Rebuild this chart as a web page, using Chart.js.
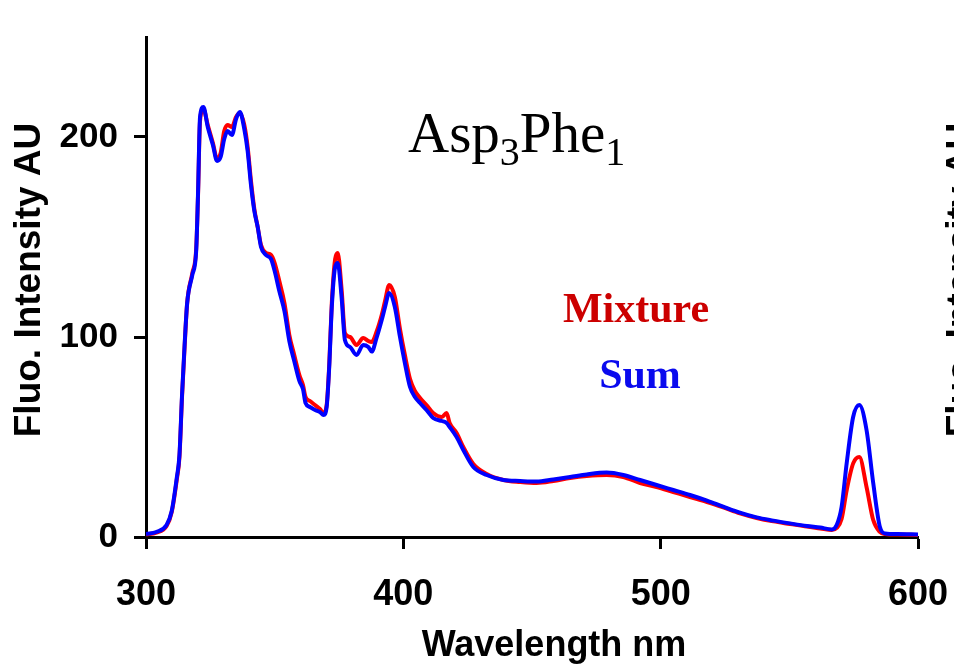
<!DOCTYPE html>
<html>
<head>
<meta charset="utf-8">
<title>Asp3Phe1 fluorescence</title>
<script src="https://cdn.jsdelivr.net/npm/chart.js@4.4.1/dist/chart.umd.min.js"></script>
<style>
    html, body { margin: 0; padding: 0; background: #ffffff; }
    #wrap { position: relative; width: 954px; height: 670px; }
</style>
</head>
<body>
<div id="wrap"><canvas id="spectrum-chart"></canvas></div>
<script>
// Emission spectra
const wavelengths = [
    300, 304, 308, 310, 312, 313, 314, 315, 316, 318, 319.5, 320.2, 321, 322.3, 324, 326, 327.6, 329,
    330.4, 331.7, 333.4, 335, 336.5, 338.2, 339.5, 340.8, 342.1, 343.4, 344.7, 346.6, 348.6, 350,
    351.8, 353.8, 355.7, 357.6, 359.6, 361, 362, 363.7, 365.7, 367.6, 369, 370.2, 371.2, 372.2,
    373.5, 374.5, 376, 377.3, 379.3, 381.8, 384.4, 386.4, 387.7, 389.7, 391.6, 392.9, 394.5, 396.7,
    398.7, 400.6, 402.6, 404.5, 406.5, 409, 411.6, 415, 416.8, 418, 420.7, 423.3, 427.2, 432.4,
    438.9, 445.4, 451.8, 458.3, 464.8, 471.3, 479, 485.5, 492, 498.4, 504.9, 511.4, 518, 524.3,
    530.8, 537.3, 543.8, 550.3, 556.8, 562, 566.5, 568.4, 570.3, 572.3, 574.8, 577.2, 580, 582.6,
    585.2, 587.2, 592, 600
];
const sumValues = [
    1.5, 2.5, 6, 13, 30, 41, 71, 96, 117, 131, 143, 171, 210, 215, 205, 196, 188, 190,
    199, 203, 201, 209, 212.5, 204, 193, 176, 163, 155, 145, 141, 139, 133,
    123, 113, 98, 88, 78, 74, 67, 65, 63.5, 62.5, 61, 65, 85, 115,
    135, 137, 120, 98.5, 95, 91, 96, 95, 92.7, 100, 108.5, 115, 122, 115,
    100, 87, 75, 70, 67, 63.5, 59.5, 58, 57, 55, 50, 43.5, 35, 31,
    28.5, 28, 27.7, 28.8, 30, 31.3, 32.2, 31, 28.5, 26, 23.5, 21, 18.2, 15.2,
    12.2, 9.8, 8.2, 6.8, 5.5, 4.7, 3.8, 6, 15, 37, 60, 66, 53.5, 27,
    5, 1.8, 1.5, 1.3
];
const mixtureValues = [
    1.2, 2.2, 5.5, 12.5, 29, 40, 70, 95, 117, 132, 144, 170, 208, 214, 206, 197, 189, 192,
    203, 206, 205, 210, 212, 206, 195, 178, 164, 155, 146, 142, 141, 137,
    128, 117, 101, 91, 81, 76, 70, 68, 66, 64, 62, 66, 86, 117,
    139, 142, 124, 102, 100, 96, 99.5, 98, 97.5, 103, 111, 118, 126, 120,
    104, 91, 79, 73, 69.5, 66, 62, 60, 62, 57, 52, 45, 36.5, 31.5,
    28.5, 27.5, 27, 28, 29.5, 30.5, 31, 30, 27, 25, 22.5, 20, 17.5, 14.8,
    11.8, 9.5, 7.8, 6.5, 5.2, 4.3, 3.5, 4.5, 9, 23.5, 36.8, 40, 25, 8.5,
    2.5, 1.5, 1.2, 1
];
const xTicks = [300, 400, 500, 600];
const yTicks = [0, 100, 200];

const SANS = "'Liberation Sans', Arial, sans-serif";
const SERIF = "'Liberation Serif', 'Times New Roman', serif";

// Turn the arrays into {x, y} points
function toPoints(values) {
    return wavelengths.map((w, i) => ({ x: w, y: values[i] }));
}

// Texts around the plot (axis titles, panel label, key)
const labelsPlugin = {
    id: 'figureLabels',
    afterDraw(chart) {
        const ctx = chart.ctx;
        ctx.save();
        ctx.fillStyle = '#000000';

        // x axis title
        ctx.font = 'bold 36px ' + SANS;
        ctx.textAlign = 'center';
        ctx.textBaseline = 'middle';
        ctx.fillText('Wavelength nm', 554, 646);

        // y axis title, and the one of the next panel cut by the right edge
        ctx.font = 'bold 37px ' + SANS;
        [30, 962].forEach(cx => {
            ctx.save();
            ctx.translate(cx, 280);
            ctx.rotate(-Math.PI / 2);
            ctx.fillText('Fluo. Intensity AU', 0, 0);
            ctx.restore();
        });

        // Asp3Phe1 with subscripts
        ctx.textAlign = 'left';
        ctx.textBaseline = 'alphabetic';
        let x = 408;
        const parts = [['Asp', false], ['3', true], ['Phe', false], ['1', true]];
        parts.forEach(([txt, sub]) => {
            ctx.font = (sub ? '40px ' : '57px ') + SERIF;
            ctx.fillText(txt, x, sub ? 165 : 152);
            x += ctx.measureText(txt).width;
        });

        // key
        ctx.textAlign = 'center';
        ctx.font = 'bold 42px ' + SERIF;
        ctx.fillStyle = '#cc0000';
        ctx.fillText('Mixture', 636, 322);
        ctx.fillStyle = '#0a0aee';
        ctx.fillText('Sum', 640, 388);

        ctx.restore();
    }
};

function initializeSpectrumChart() {
    const ctx = document.getElementById('spectrum-chart');

    new Chart(ctx, {
        type: 'line',
        data: {
            datasets: [{
                // first dataset is painted last, so the blue trace sits on top
                label: 'Sum',
                data: toPoints(sumValues),
                borderColor: '#0000ff',
                borderWidth: 4,
                pointRadius: 0,
                cubicInterpolationMode: 'monotone',
                fill: false
            }, {
                label: 'Mixture',
                data: toPoints(mixtureValues),
                borderColor: '#ff0000',
                borderWidth: 4,
                pointRadius: 0,
                cubicInterpolationMode: 'monotone',
                fill: false
            }]
        },
        options: {
            responsive: true,
            maintainAspectRatio: false,
            animation: false,
            layout: {
                padding: { top: 34, right: 36, bottom: 0, left: 0 }
            },
            plugins: {
                legend: { display: false },
                tooltip: { enabled: false }
            },
            scales: {
                x: {
                    type: 'linear',
                    min: 300,
                    max: 600,
                    afterFit: scale => {
                        scale.height = 133;
                        // let the "600" label hang past the plot instead of shrinking it
                        scale.paddingLeft = 0;
                        scale.paddingRight = 0;
                    },
                    afterBuildTicks: scale => { scale.ticks = xTicks.map(v => ({ value: v })); },
                    border: { display: true, color: '#000000', width: 3 },
                    grid: {
                        drawOnChartArea: false,
                        drawTicks: true,
                        tickLength: 12,
                        tickWidth: 3,
                        tickColor: '#000000'
                    },
                    ticks: {
                        color: '#000000',
                        padding: 24,
                        maxRotation: 0,
                        font: { family: SANS, size: 36, weight: 'bold' }
                    }
                },
                y: {
                    type: 'linear',
                    min: 0,
                    max: 250,
                    afterFit: scale => { scale.width = 146; },
                    afterBuildTicks: scale => { scale.ticks = yTicks.map(v => ({ value: v })); },
                    border: { display: true, color: '#000000', width: 3 },
                    grid: {
                        drawOnChartArea: false,
                        drawTicks: true,
                        tickLength: 12,
                        tickWidth: 3,
                        tickColor: '#000000'
                    },
                    ticks: {
                        color: '#000000',
                        padding: 16,
                        font: { family: SANS, size: 35, weight: 'bold' }
                    }
                }
            }
        },
        plugins: [labelsPlugin]
    });
}

initializeSpectrumChart();
</script>
</body>
</html>
